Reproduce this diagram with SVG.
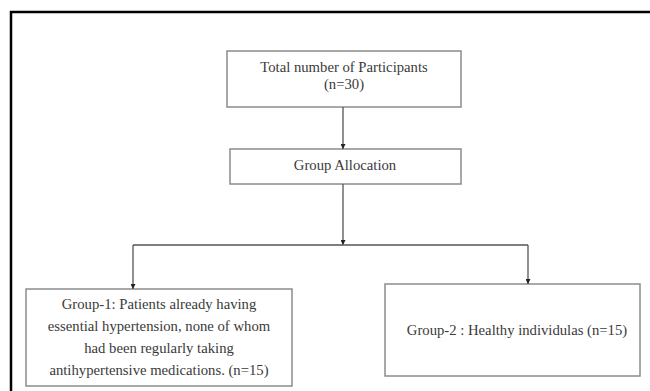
<svg xmlns="http://www.w3.org/2000/svg" width="650" height="391" viewBox="0 0 650 391">
<style>
.box{fill:#fff;stroke:#8c8c8c;stroke-width:1.5}
.t{font-family:"Liberation Serif","Times New Roman",serif;font-size:14.7px;fill:#3a3a3a;text-anchor:middle;dominant-baseline:central}
.c{fill:none;stroke:#555;stroke-width:1.3}
</style>
<defs>
<marker id="ah" viewBox="0 0 10 10" refX="10" refY="5" markerWidth="5" markerHeight="5" markerUnits="userSpaceOnUse" orient="auto">
<path d="M0,0 L10,5 L0,10 Z" fill="#222"/>
</marker>
</defs>
<rect x="0" y="0" width="650" height="391" fill="#fff"/>
<path d="M11,391 V12 H650" fill="none" stroke="#000" stroke-width="2.5"/>
<g id="total">
<rect class="box" x="227" y="51" width="234" height="56"/>
<text class="t" x="344" y="67">Total number of Participants</text>
<text class="t" x="344" y="84">(n=30)</text>
</g>
<g id="allocation">
<rect class="box" x="230" y="149" width="231" height="35"/>
<text class="t" x="345" y="165">Group Allocation</text>
</g>
<g id="group1">
<rect class="box" x="26" y="289" width="266" height="97"/>
<text class="t" x="159" y="304">Group-1:  Patients already having</text>
<text class="t" x="159" y="326">essential hypertension, none of whom</text>
<text class="t" x="159" y="348">had been regularly taking</text>
<text class="t" x="159" y="370">antihypertensive medications. (n=15)</text>
</g>
<g id="group2">
<rect class="box" x="385" y="284" width="255" height="92"/>
<text class="t" x="517" y="330">Group-2 : Healthy individulas (n=15)</text>
</g>
<g id="connectors">
<path class="c" d="M343,107 V149" marker-end="url(#ah)"/>
<path class="c" d="M343,184 V245" marker-end="url(#ah)"/>
<path class="c" d="M133,245 H528"/>
<path class="c" d="M133,245 V289" marker-end="url(#ah)"/>
<path class="c" d="M528,245 V284" marker-end="url(#ah)"/>
</g>
</svg>
